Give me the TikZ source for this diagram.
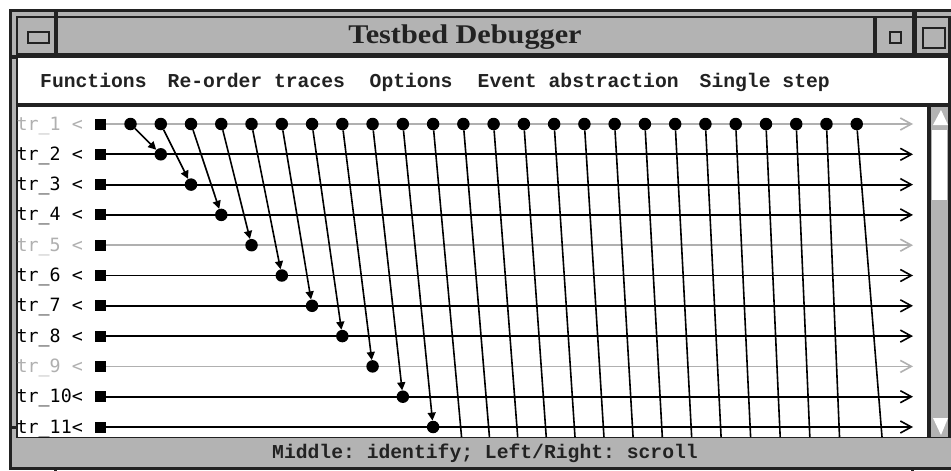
\documentclass[tikz,border=0pt]{standalone}
\usepackage{fontspec}
\usepackage{graphicx}
\setmainfont{Liberation Serif}
\newfontfamily\menufont{Liberation Mono}
\newfontfamily\tracefont{DejaVu Sans Mono}
\usetikzlibrary{arrows.meta}
\definecolor{wmgrey}{HTML}{B3B3B3}
\definecolor{wmdark}{HTML}{222222}
\definecolor{faint}{HTML}{B0B0B0}
\frenchspacing

\begin{document}
\begin{tikzpicture}[x=1pt, y=-1pt, declare function={
    xd(\k)=130.5+30.26*(\k-1);
    yr(\i)=124+30.3*(\i-1);
  },
  ev/.style={circle, fill=black, inner sep=0pt, minimum size=12.5pt},
  hd/.style={fill=black, inner sep=0pt, minimum size=11pt},
  lbl/.style={anchor=base west, inner sep=0pt, font=\tracefont\fontsize{18.3}{20}\selectfont},
  menu/.style={anchor=base west, inner sep=0pt, text=wmdark, font=\menufont\bfseries\fontsize{19.7}{22}\selectfont},
  tl/.style={line width=1.8pt, -{Straight Barb[length=11pt, width=12pt, line width=1.6pt]}},
  msg/.style={line width=1.6pt, -{Triangle[length=8pt, width=8pt]}},
  cut/.style={line width=1.6pt},
  ]
  \useasboundingbox (0,0) rectangle (951,471);
  \fill[white] (0,0) rectangle (951,471);
  % window frame
  \fill[wmdark] (9,9) rectangle (951,470);
  \fill[wmgrey] (12,12) rectangle (951,467);
  \fill[wmdark] (16,16) rectangle (951,438);
  \fill[wmgrey] (18,18) rectangle (948,53);
  \fill[white] (18,58) rectangle (948,103);
  \fill[white] (18,107) rectangle (927,437);
  \fill[wmgrey] (19,438) rectangle (951,467);
  \fill[wmdark] (54,9) rectangle (58,57);
  \fill[wmdark] (873,16) rectangle (877,57);
  \fill[wmdark] (912,9) rectangle (917,57);
  \fill[wmdark] (9,55) rectangle (18,59);
  \fill[wmdark] (9,426) rectangle (18,429);
  \fill[wmdark] (54,467) rectangle (57,471);
  \fill[wmdark] (911,467) rectangle (914,471);
  \draw[wmdark, line width=1.7pt] (28,32) rectangle (49,43);
  \draw[wmdark, line width=1.5pt] (890,32) rectangle (901,43);
  \draw[wmdark, line width=1.5pt] (923,28) rectangle (945,48);
  \node[font=\bfseries\fontsize{27}{30}\selectfont, anchor=base, text=wmdark] (title) at (465,43) {\scalebox{1.12}[1]{Testbed Debugger}};
  \node[menu] (m1) at (40,87) {Functions};
  \node[menu] (m2) at (167.5,87) {Re-order traces};
  \node[menu] (m3) at (369.5,87) {Options};
  \node[menu] (m4) at (477.5,87) {Event abstraction};
  \node[menu] (m5) at (699.5,87) {Single step};
  % scroll bar
  \fill[wmdark] (927,107) rectangle (931,437);
  \fill[wmgrey] (931,107) rectangle (948,437);
  \fill[white] (941,110) -- (948,125) -- (933,125) -- cycle;
  \fill[white] (932,130) rectangle (947,200);
  \fill[white] (933,418) -- (948,418) -- (941,435) -- cycle;
  % traces
  \foreach \i/\col in {1/faint,2/black,3/black,4/black,5/faint,6/black,7/black,8/black,9/faint,10/black,11/black} {
    \node[lbl, text=\col] (l\i) at (16.5,{yr(\i)+6}) {tr\_\i\ifnum\i<10\relax\ \fi<};
    \node[hd] (h\i) at (100.5,{yr(\i)}) {};
    \coordinate (t\i) at (913,{yr(\i)});
    \draw[tl, \col] (h\i) -- (t\i);
  }
  \foreach \k in {1,...,25}
    \node[ev] (p\k) at ({xd(\k)},{yr(1)}) {};
  \foreach \k in {1,...,10} {
    \node[ev] (q\k) at ({xd(\k+1)},{yr(\k+1)}) {};
    \draw[msg] (p\k) -- (q\k);
  }
  \foreach \k in {11,...,24} {
    \coordinate (e\k) at ({xd(\k)+313/\k},437);
    \draw[cut] (p\k) -- (e\k);
  }
  \coordinate (e25) at (882,437);
  \draw[cut] (p25) -- (e25);
  \node[menu] (hint) at (272,458) {Middle: identify; Left/Right: scroll};
\end{tikzpicture}
\end{document}
